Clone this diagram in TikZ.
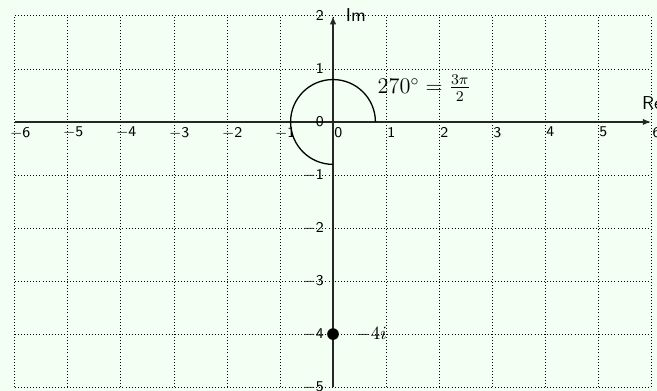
\documentclass[tikz,border=0pt]{standalone}
\usetikzlibrary{arrows.meta}
\definecolor{bgmint}{RGB}{242,255,242}
\begin{document}
\begin{tikzpicture}[
  gridline/.style={line width=0.45pt, dash pattern=on 0.45pt off 1.2pt, black},
  axisline/.style={line width=0.9pt, black!85, -{Latex[length=4.5pt,width=3.5pt]}},
  xtick/.style={anchor=north, font=\sffamily\footnotesize, inner sep=2.5pt},
  ytick/.style={anchor=east, font=\sffamily\footnotesize, inner sep=2.5pt},
  axlabel/.style={font=\sffamily},
]
\useasboundingbox[fill=bgmint] (-6.28,-5.07) rectangle (6.11,2.30);
% grid
\foreach \x in {-6,...,6} \draw[gridline] (\x,-5) -- (\x,2);
\foreach \y in {-5,...,2} \draw[gridline] (-6,\y) -- (6,\y);
% axes
\coordinate (xs) at (-6,0);
\coordinate (xe) at (6,0);
\coordinate (ys) at (0,-5);
\coordinate (ye) at (0,2);
\draw[axisline] (xs) -- (xe);
\draw[axisline] (ys) -- (ye);
\node[axlabel, anchor=south, inner sep=1pt] (re) at (6.02,0.18) {Re};
\node[axlabel, anchor=west, inner sep=1pt] (im) at (0.2,2.02) {Im};
% tick labels
\foreach \x in {-6,...,-1} \node[xtick] (xl\x) at (\x+0.1,0) {$-$\the\numexpr-\x\relax};
\foreach \x in {0,...,6} \node[xtick] (xl\x) at (\x+0.1,0) {\x};
\foreach \y in {-5,...,-1} \node[ytick] (yl\y) at (-0.08,\y) {$-$\the\numexpr-\y\relax};
\foreach \y in {0,...,2} \node[ytick] (yl\y) at (-0.08,\y) {\y};
% arc 270 degrees
\draw[line width=0.7pt] (0.8,0) arc[start angle=0, end angle=270, radius=0.8];
\node[anchor=west, inner sep=1pt, font=\large] (ang) at (0.8,0.64) {$270^\circ=\frac{3\pi}{2}$};
% point -4i
\node[circle, fill=black, inner sep=0pt, minimum size=0.22cm] (p) at (0,-4) {};
\node[anchor=west, inner sep=1pt] (pl) at (0.4,-4) {$-4i$};
\end{tikzpicture}
\end{document}
